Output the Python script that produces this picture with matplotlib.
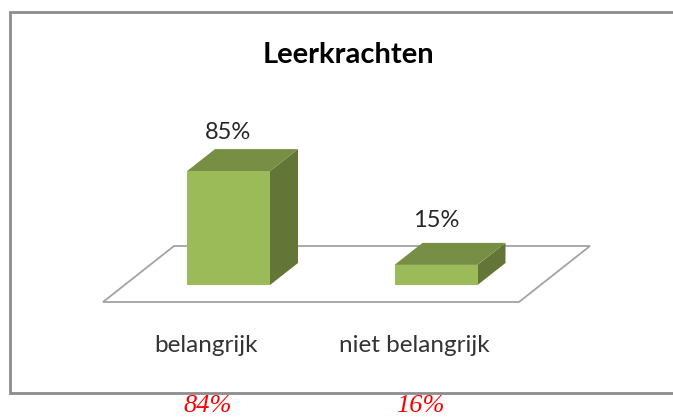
import matplotlib
matplotlib.use("Agg")
import matplotlib.pyplot as plt
from matplotlib.patches import Polygon, Rectangle

categories = ["belangrijk", "niet belangrijk"]
values = [85, 15]
value_labels = ["85%", "15%"]
red_labels = ["84%", "16%"]
title = "Leerkrachten"

W, H = 673, 419
PX_PER_CAT = 207.5
PX_PER_VAL = 1.34
X0 = 228.5   # pixel x of first bar centre
Y0 = 285     # pixel y of value 0

fig = plt.figure(figsize=(W / 100, H / 100), dpi=100)
ax = fig.add_axes([0, 0, 1, 1])
ax.set_xlim(-X0 / PX_PER_CAT, (W - X0) / PX_PER_CAT)
ax.set_ylim((Y0 - H) / PX_PER_VAL, Y0 / PX_PER_VAL)
ax.axis("off")

# pixel helpers (y down, like the picture)
def dx(p):
    return p / PX_PER_CAT

def dy(p):
    return p / PX_PER_VAL

def px(x, y):
    return (x - X0) / PX_PER_CAT, (Y0 - y) / PX_PER_VAL

bar_w = dx(83)
depth_x = dx(28)
depth_y = dy(22)

# frame
fx, fy = px(10, 393)
fx2, fy2 = px(W + 10, 12)
ax.add_patch(Rectangle((fx, fy), fx2 - fx, fy2 - fy, fc="white", ec="#8c8c8c", lw=2))

# floor
floor = [px(103, 302), px(519, 302), px(590, 246), px(174, 246)]
ax.add_patch(Polygon(floor, closed=True, fc="white", ec="#a3a3a3", lw=1.3, joinstyle="miter"))

# bars
label_gap = [17, 22]
for i, v in enumerate(values):
    left = i - bar_w / 2
    right = i + bar_w / 2
    ax.add_patch(Polygon([(right, 0), (right + depth_x, depth_y), (right + depth_x, v + depth_y), (right, v)],
                         closed=True, fc="#637537", ec="none"))
    ax.add_patch(Polygon([(left, v), (right, v), (right + depth_x, v + depth_y), (left + depth_x, v + depth_y)],
                         closed=True, fc="#778f45", ec="none"))
    ax.bar(i, v, width=bar_w, color="#9bbb59", edgecolor="none")
    ax.text(i, v + depth_y + dy(label_gap[i]), value_labels[i], ha="center", va="center",
            fontsize=17, family="Lato", color="#262626")

# category labels
label_x = [206.5, 414]
for x, c in zip(label_x, categories):
    ax.text(*px(x, 345), c, ha="center", va="center", fontsize=17.5, family="Lato", color="#333333")

ax.text(*px(348, 55), title, ha="center", va="center", fontsize=21, family="Lato", weight="bold", color="black")

# red numbers under the frame, kept just inside the bottom edge
red_x = [208, 420]
for x, t in zip(red_x, red_labels):
    ax.text(*px(x, 406), t, ha="center", va="center", fontsize=19, family="Liberation Serif",
            style="italic", color="#ff0000", clip_on=False)

fig.savefig("out.png", dpi=100)
